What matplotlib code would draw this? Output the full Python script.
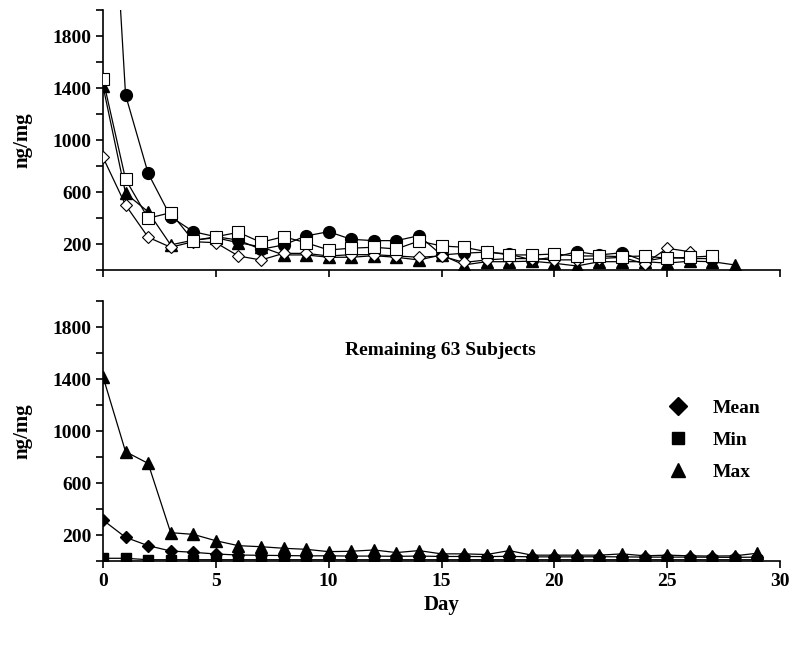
import numpy as np
import matplotlib.pyplot as plt
from matplotlib.lines import Line2D
from matplotlib.ticker import MultipleLocator

plt.rcParams['font.family'] = ['Liberation Serif', 'DejaVu Serif']
plt.rcParams['font.weight'] = 'bold'

# top panel: four subjects
days_circle = np.arange(0, 28)
circle_vals = [4300, 1348, 746, 412, 297, 258, 232, 161, 195, 264, 297, 238, 228, 228,
               266, 118, 131, 140, 125, 79, 100, 143, 118, 135, 70, 100, 90, 90]
days_square = np.arange(0, 28)
square_vals = [1471, 700, 400, 443, 228, 258, 292, 215, 258, 212, 156, 170, 177, 164,
               225, 187, 177, 143, 118, 118, 125, 110, 110, 105, 110, 92, 100, 110]
days_triangle = np.arange(0, 29)
triangle_vals = [1417, 592, 450, 195, 232, 250, 212, 180, 118, 118, 100, 100, 112, 100,
                 79, 118, 41, 66, 66, 70, 54, 33, 66, 66, 66, 55, 70, 66, 41]
days_diamond = np.arange(0, 27)
diamond_vals = [869, 502, 254, 177, 220, 212, 110, 79, 130, 130, 110, 120, 120, 110,
                100, 110, 60, 80, 90, 90, 80, 80, 90, 100, 50, 169, 143]

# bottom panel: remaining 63 subjects
days_bottom = np.arange(0, 30)
mean_vals = [315, 182, 118, 77, 67, 54, 46, 44, 42, 40, 40, 38, 38, 36, 38, 35, 35, 34,
             36, 32, 32, 32, 33, 32, 30, 30, 30, 29, 28, 30]
min_vals = [21, 21, 10, 10, 10, 10, 10, 10, 10, 10, 10, 10, 10, 10, 10, 10, 10, 10,
            10, 10, 10, 10, 10, 10, 10, 10, 10, 10, 10, 10]
max_vals = [1418, 841, 751, 218, 205, 156, 118, 110, 98, 90, 72, 75, 85, 65, 80, 55, 55,
            50, 80, 45, 45, 45, 45, 55, 40, 45, 40, 38, 40, 60]

fig = plt.figure(figsize=(8, 6.5), dpi=100)
ax1 = fig.add_axes([0.12875, 0.5842, 0.84625, 0.4])
ax2 = fig.add_axes([0.12875, 0.1369, 0.84625, 0.4])

lw = 0.9
ax1.plot(days_circle, circle_vals, color='black', lw=lw, marker='o', ms=8.5,
         mfc='black', mec='black', zorder=2)
ax1.plot(days_triangle, triangle_vals, color='black', lw=lw, marker='^', ms=8.5,
         mfc='black', mec='black', zorder=3)
ax1.plot(days_diamond, diamond_vals, color='black', lw=lw, marker='D', ms=6,
         mfc='white', mec='black', mew=0.8, zorder=4)
ax1.plot(days_square, square_vals, color='black', lw=lw, marker='s', ms=9,
         mfc='white', mec='black', mew=0.8, zorder=5)

ax2.plot(days_bottom, max_vals, color='black', lw=lw, marker='^', ms=8.5,
         mfc='black', mec='black')
ax2.plot(days_bottom, mean_vals, color='black', lw=lw, marker='D', ms=6,
         mfc='black', mec='black')
ax2.plot(days_bottom, min_vals, color='black', lw=lw, marker='s', ms=7,
         mfc='black', mec='black')

for ax in (ax1, ax2):
    ax.set_xlim(0, 30)
    ax.set_ylim(0, 2000)
    ax.spines['top'].set_visible(False)
    ax.spines['right'].set_visible(False)
    ax.spines['left'].set_linewidth(1.2)
    ax.spines['bottom'].set_linewidth(1.2)
    ax.set_yticks([200, 600, 1000, 1400, 1800])
    ax.yaxis.set_minor_locator(MultipleLocator(200))
    ax.set_xticks(np.arange(0, 31, 5))
    ax.tick_params(axis='both', which='both', direction='out', length=5, width=1.2,
                   labelsize=14)
    ax.set_ylabel('ng/mg', fontsize=15, fontweight='bold', labelpad=14)
    for lab in ax.get_yticklabels():
        lab.set_fontweight('bold')

ax1.tick_params(axis='x', labelbottom=False)
for lab in ax2.get_xticklabels():
    lab.set_fontweight('bold')
ax2.set_xlabel('Day', fontsize=15, fontweight='bold', labelpad=4)

ax2.text(0.498, 0.81, 'Remaining 63 Subjects', transform=ax2.transAxes,
         ha='center', va='center', fontsize=14, fontweight='bold')

handles = [Line2D([], [], ls='none', marker='D', ms=9, color='black'),
           Line2D([], [], ls='none', marker='s', ms=9, color='black'),
           Line2D([], [], ls='none', marker='^', ms=10, color='black')]
ax2.legend(handles, ['Mean', 'Min', 'Max'], loc='upper left',
           bbox_to_anchor=(0.806, 0.69), frameon=False, handlelength=1.2,
           handletextpad=1.2, labelspacing=0.75, prop={'size': 14, 'weight': 'bold'})

fig.savefig('out.png', dpi=100)
